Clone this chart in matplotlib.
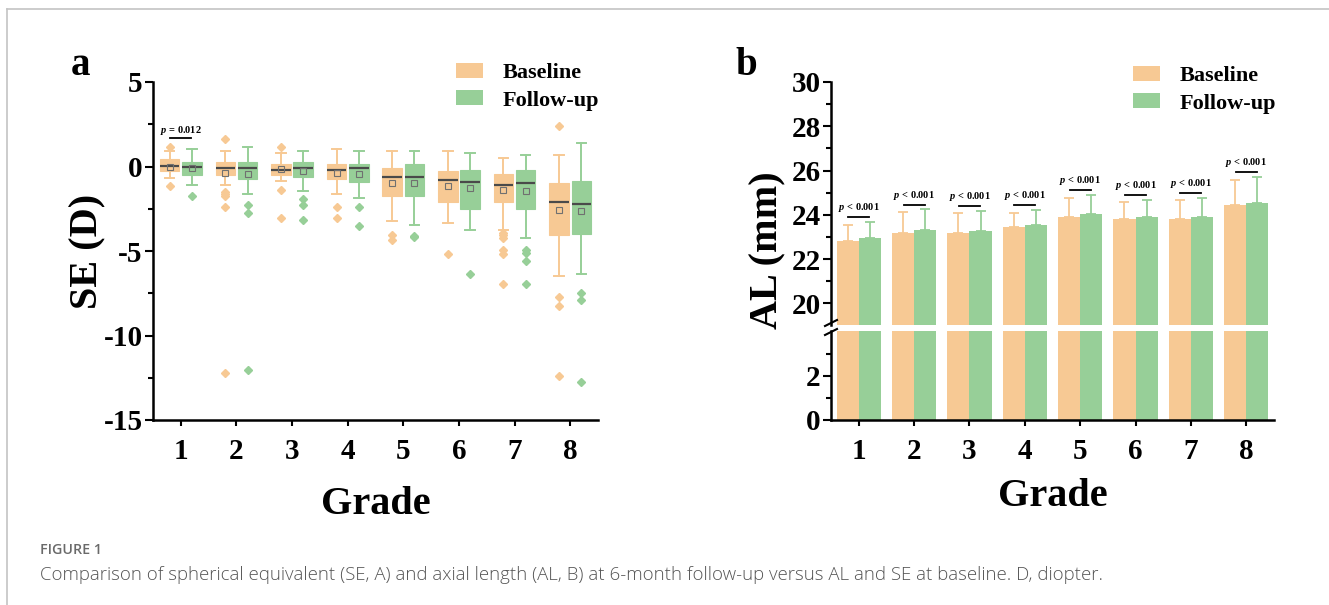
import matplotlib
matplotlib.use("Agg")
import matplotlib.pyplot as plt
from matplotlib.patches import Patch
from matplotlib.lines import Line2D

plt.rcParams["font.family"] = ["Liberation Serif", "DejaVu Serif"]
plt.rcParams["font.weight"] = "bold"
plt.rcParams["axes.unicode_minus"] = False
plt.rcParams["mathtext.fontset"] = "custom"
plt.rcParams["mathtext.it"] = "Liberation Serif:italic:bold"
plt.rcParams["mathtext.rm"] = "Liberation Serif:bold"

# ---------------- data ----------------
grades = [1, 2, 3, 4, 5, 6, 7, 8]
grade_labels = ["1", "2", "3", "4", "5", "6", "7", "8"]
series_names = ["Baseline", "Follow-up"]

# Panel a: SE (D) box statistics
se_base_whislo = [-0.69, -1.09, -0.83, -1.60, -3.22, -3.33, -3.73, -6.47]
se_base_q1 = [-0.26, -0.50, -0.52, -0.75, -1.76, -2.13, -2.13, -4.06]
se_base_med = [0.03, -0.06, -0.22, -0.22, -0.60, -0.77, -1.10, -2.09]
se_base_q3 = [0.43, 0.27, 0.15, 0.17, -0.06, -0.26, -0.44, -0.95]
se_base_whishi = [0.90, 0.90, 0.78, 1.04, 0.90, 0.90, 0.53, 0.66]
se_base_mean = [0.00, -0.40, -0.14, -0.36, -0.97, -1.13, -1.40, -2.56]
se_base_fliers = [[1.13, -1.13], [1.62, -1.48, -1.60, -1.74, -2.39, -12.2],
                  [1.13, -1.38, -3.02], [-2.39, -3.02], [-4.06, -4.35],
                  [-5.2], [-3.93, -4.04, -4.24, -4.95, -5.2, -6.98],
                  [2.42, -7.73, -8.24, -12.38]]

se_fu_whislo = [-1.09, -1.60, -1.46, -1.86, -3.49, -3.73, -4.22, -6.35]
se_fu_q1 = [-0.50, -0.75, -0.62, -0.89, -1.76, -2.50, -2.50, -4.02]
se_fu_med = [0.00, -0.06, -0.06, -0.06, -0.60, -0.91, -0.97, -2.23]
se_fu_q3 = [0.27, 0.27, 0.27, 0.17, 0.13, -0.20, -0.20, -0.83]
se_fu_whishi = [1.04, 1.16, 0.90, 0.90, 0.90, 0.78, 0.66, 1.42]
se_fu_mean = [-0.08, -0.46, -0.26, -0.42, -0.97, -1.25, -1.46, -2.64]
se_fu_fliers = [[-1.76], [-2.27, -2.77, -12.07], [-1.90, -2.27, -3.14],
                [-2.39, -3.54], [-4.10, -4.17], [-6.35],
                [-4.95, -5.09, -5.62, -6.98], [-7.47, -7.87, -12.75]]
se_p_labels = {1: "$p$ = 0.012"}

# Panel b: AL (mm) mean and SD
al_base = [22.81, 23.19, 23.19, 23.43, 23.91, 23.82, 23.83, 24.45]
al_base_sd = [0.71, 0.92, 0.89, 0.65, 0.87, 0.75, 0.85, 1.14]
al_fu = [22.95, 23.31, 23.28, 23.53, 24.02, 23.92, 23.92, 24.53]
al_fu_sd = [0.72, 0.93, 0.89, 0.68, 0.88, 0.77, 0.86, 1.18]
al_p_labels = ["$p$ < 0.001"] * 8

c_base = "#F7C994"
c_fu = "#97CF98"

W, H = 1329, 605
fig = plt.figure(figsize=(W / 100, H / 100), dpi=100)


def fx(px):
    return px / W


def fy(py):
    return 1 - py / H


TICK_FS = 21
LABEL_FS = 29


def style_axis(ax):
    for s in ["top", "right"]:
        ax.spines[s].set_visible(False)
    for s in ["left", "bottom"]:
        ax.spines[s].set_linewidth(1.8)
    ax.tick_params(axis="y", which="major", direction="out", length=5.5, width=1.5,
                   labelsize=TICK_FS, pad=2)
    ax.tick_params(axis="y", which="minor", direction="out", length=3.5, width=1.5)
    ax.tick_params(axis="x", which="major", direction="out", length=4, width=1.5,
                   labelsize=TICK_FS, pad=9)


# ---------------- panel a ----------------
axA = fig.add_axes([fx(153), fy(420), (598 - 153) / W, (420 - 82) / H])
off = 0.2
for names, col, sign in [
    ((se_base_whislo, se_base_q1, se_base_med, se_base_q3, se_base_whishi,
      se_base_mean, se_base_fliers), c_base, -1),
    ((se_fu_whislo, se_fu_q1, se_fu_med, se_fu_q3, se_fu_whishi,
      se_fu_mean, se_fu_fliers), c_fu, 1),
]:
    wl, q1, md, q3, wh, mn, fl = names
    stats = []
    for i in range(len(grades)):
        stats.append(dict(whislo=wl[i], q1=q1[i], med=md[i], q3=q3[i],
                          whishi=wh[i], mean=mn[i], fliers=fl[i]))
    pos = [g + sign * off for g in grades]
    axA.bxp(stats, positions=pos, widths=0.35, capwidths=0.17, patch_artist=True,
            showmeans=True, manage_ticks=False,
            boxprops=dict(facecolor=col, edgecolor=col, linewidth=0.8),
            whiskerprops=dict(color=col, linewidth=1.4),
            capprops=dict(color=col, linewidth=1.4),
            medianprops=dict(color="#4a4a4a", linewidth=1.6),
            meanprops=dict(marker="s", markerfacecolor="none",
                           markeredgecolor="#707070", markersize=4,
                           markeredgewidth=0.8),
            flierprops=dict(marker="D", markerfacecolor=col, markeredgecolor=col,
                            markersize=3.8))

for g, lab in se_p_labels.items():
    i = g - 1
    top = max([se_base_whishi[i], se_fu_whishi[i]] + se_base_fliers[i] + se_fu_fliers[i])
    yl = top + 0.55
    axA.plot([g - 0.19, g + 0.19], [yl, yl], color="black", lw=1.3)
    axA.text(g, yl + 0.47, lab, ha="center", va="center", fontsize=7.5,
             fontweight="bold")

axA.set_xlim(0.5, 8.5)
axA.set_ylim(-15, 5)
axA.set_yticks([-15, -10, -5, 0, 5])
axA.set_yticks([-12.5, -7.5, -2.5, 2.5], minor=True)
axA.set_xticks(grades)
axA.set_xticklabels(grade_labels)
style_axis(axA)
for t in axA.get_xticklabels() + axA.get_yticklabels():
    t.set_fontweight("bold")

fig.text(fx(88), fy(251), "SE (D)", rotation=90, ha="center", va="center",
         fontsize=LABEL_FS, fontweight="bold")
fig.text(fx(376), fy(505), "Grade", ha="center", va="center",
         fontsize=LABEL_FS, fontweight="bold")
fig.text(fx(81), fy(75), "a", ha="center", va="baseline", fontsize=28,
         fontweight="bold")

handles = [Patch(facecolor=c_base, edgecolor="none"),
           Patch(facecolor=c_fu, edgecolor="none")]
leg_kw = dict(frameon=False, loc="upper left", borderpad=0, borderaxespad=0,
              handlelength=1.22, handleheight=0.68, handletextpad=0.86,
              labelspacing=0.3, prop=dict(family="Liberation Serif",
                                          weight="bold", size=16))
fig.legend(handles, series_names, bbox_to_anchor=(fx(456), fy(63)), **leg_kw)

# ---------------- panel b ----------------
bw = 0.4
axT = fig.add_axes([fx(831), fy(325), (1274 - 831) / W, (325 - 82) / H])
axB = fig.add_axes([fx(831), fy(420), (1274 - 831) / W, (420 - 331) / H])
for ax in (axT, axB):
    ax.bar([g - off for g in grades], al_base, width=bw, color=c_base,
           edgecolor="none")
    ax.bar([g + off for g in grades], al_fu, width=bw, color=c_fu,
           edgecolor="none")
    ax.set_xlim(0.5, 8.5)

axT.errorbar([g - off for g in grades], al_base,
             yerr=[[0] * len(grades), al_base_sd], fmt="none", ecolor=c_base,
             elinewidth=1.3, capsize=3.3, capthick=1.3)
axT.errorbar([g + off for g in grades], al_fu,
             yerr=[[0] * len(grades), al_fu_sd], fmt="none", ecolor=c_fu,
             elinewidth=1.3, capsize=3.3, capthick=1.3)

for i, g in enumerate(grades):
    top = max(al_base[i] + al_base_sd[i], al_fu[i] + al_fu_sd[i])
    yl = top + 0.22
    axT.plot([g - 0.19, g + 0.19], [yl, yl], color="black", lw=1.3)
    axT.text(g, yl + 0.42, al_p_labels[i], ha="center", va="center",
             fontsize=7.5, fontweight="bold")

axT.set_ylim(19.02, 30)
axT.set_yticks([20, 22, 24, 26, 28, 30])
axT.set_yticks([21, 23, 25, 27, 29], minor=True)
axB.set_ylim(0, 4.02)
axB.set_yticks([0, 2])
axB.set_yticks([1, 3], minor=True)
axB.set_xticks(grades)
axB.set_xticklabels(grade_labels)
style_axis(axT)
style_axis(axB)
axT.spines["bottom"].set_visible(False)
axT.set_xticks([])
for ax in (axT, axB):
    for t in ax.get_xticklabels() + ax.get_yticklabels():
        t.set_fontweight("bold")

# axis break marks
for yb in (323, 332):
    fig.add_artist(Line2D([fx(825), fx(837)], [fy(yb + 3), fy(yb - 3)],
                          color="black", lw=1.5))

fig.text(fx(768), fy(250), "AL (mm)", rotation=90, ha="center", va="center",
         fontsize=LABEL_FS, fontweight="bold")
fig.text(fx(1053), fy(497), "Grade", ha="center", va="center",
         fontsize=LABEL_FS, fontweight="bold")
fig.text(fx(746), fy(75), "b", ha="center", va="baseline", fontsize=28,
         fontweight="bold")
fig.legend(handles, series_names, bbox_to_anchor=(fx(1133), fy(66)), **leg_kw)

# ---------------- frame and caption ----------------
fig.add_artist(Line2D([fx(7), 1], [fy(9), fy(9)], color="#c4c4c4", lw=1.2))
fig.add_artist(Line2D([fx(7), fx(7)], [fy(9), 0], color="#c4c4c4", lw=1.2))
fig.text(fx(40), fy(550), "FIGURE 1", ha="left", va="center", fontsize=10.3,
         family=["Open Sans", "DejaVu Sans"], fontweight="semibold",
         color="#6a6a6a")
fig.text(fx(40), fy(575),
         "Comparison of spherical equivalent (SE, A) and axial length (AL, B) at "
         "6-month follow-up versus AL and SE at baseline. D, diopter.",
         ha="left", va="center", fontsize=13.4,
         family=["Open Sans", "DejaVu Sans"], fontweight="light",
         color="#555555")

fig.savefig("out.png", dpi=100, facecolor="white")
